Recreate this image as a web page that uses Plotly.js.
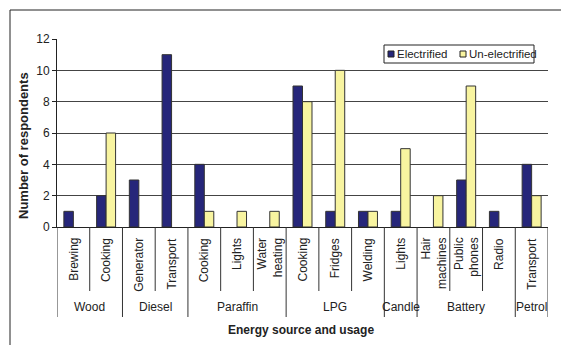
<!DOCTYPE html>
<html>
<head>
<meta charset="utf-8">
<script src="https://cdn.plot.ly/plotly-3.0.1.min.js"></script>
<style>html,body{margin:0;padding:0;background:#fff;}#chart{width:561px;height:345px;}</style>
</head>
<body>
<div id="chart"></div>
<script>
// ---- data ----
const groups = ['Wood', 'Diesel', 'Paraffin', 'LPG', 'Candle', 'Battery', 'Petrol'];
const groupSizes = [2, 2, 3, 3, 1, 3, 1];
const usages = ['Brewing', 'Cooking', 'Generator', 'Transport', 'Cooking', 'Lights', 'Water<br>heating',
  'Cooking', 'Fridges', 'Welding', 'Lights', 'Hair<br>machines', 'Public<br>phones', 'Radio', 'Transport'];
const electrified = [1, 2, 3, 11, 4, 0, 0, 9, 1, 1, 1, 0, 3, 1, 4];
const unelectrified = [0, 6, 0, 0, 1, 1, 1, 8, 10, 1, 5, 2, 9, 0, 2];
const seriesNames = ['Electrified', 'Un-electrified'];
const yTicks = [0, 2, 4, 6, 8, 10, 12];

// ---- layout geometry ----
const W = 561, H = 345;
const M = {l: 57, r: 13, t: 39, b: 118};
const PW = W - M.l - M.r, PH = H - M.t - M.b;
const px = X => (X - M.l) / PW;          // pixel x -> paper x
const py = Y => (H - M.b - Y) / PH;      // pixel y -> paper y
const FONT = '"Liberation Sans", Arial, sans-serif';
const navy = '#26267A', yellow = '#F8F4A0', edge = '#333';
const idx = usages.map((_, i) => i);
const hideZero = arr => arr.map(v => (v === 0 ? null : v));

const traces = [
  {type: 'bar', name: seriesNames[0], x: idx, y: hideZero(electrified),
   marker: {color: navy, line: {color: edge, width: 1}}, hoverinfo: 'y'},
  {type: 'bar', name: seriesNames[1], x: idx, y: hideZero(unelectrified),
   marker: {color: yellow, line: {color: edge, width: 1}}, hoverinfo: 'y'}
];

const shapes = [];
const annotations = [];

// outer frame
shapes.push({type: 'rect', xref: 'paper', yref: 'paper', x0: px(10), x1: px(620), y0: py(460), y1: py(10),
  line: {color: '#222', width: 1}, fillcolor: 'rgba(0,0,0,0)', layer: 'above'});

// dividers
const groupBounds = new Set();
let acc = 0; groupBounds.add(0);
groupSizes.forEach(s => { acc += s; groupBounds.add(acc); });
for (let k = 0; k <= usages.length; k++) {
  const isGroup = groupBounds.has(k);
  shapes.push({type: 'line', xref: 'x', yref: 'paper', x0: k - 0.5, x1: k - 0.5,
    y0: 0, y1: isGroup ? py(317) : py(291), line: {color: '#333', width: 1}});
}

// category labels
usages.forEach((u, i) => {
  annotations.push({text: u, x: i, xref: 'x', y: py(236), yref: 'paper', textangle: -90,
    xanchor: 'center', yanchor: 'top', align: 'right', showarrow: false,
    font: {family: FONT, size: 12, color: '#222'}});
});
// group labels
acc = 0;
groups.forEach((g, j) => {
  const c = acc + (groupSizes[j] - 1) / 2; acc += groupSizes[j];
  annotations.push({text: g, x: c, xref: 'x', y: py(307), yref: 'paper', xanchor: 'center', yanchor: 'middle',
    showarrow: false, font: {family: FONT, size: 12, color: '#222'}});
});
// axis titles
annotations.push({text: '<b>Energy source and usage</b>', x: px(301), y: py(330), xref: 'paper', yref: 'paper',
  xanchor: 'center', yanchor: 'middle', showarrow: false, font: {family: FONT, size: 12, color: '#222'}});
annotations.push({text: '<b>Number of respondents</b>', x: px(23), y: py(146), xref: 'paper', yref: 'paper',
  textangle: -90, xanchor: 'center', yanchor: 'middle', showarrow: false, font: {family: FONT, size: 13, color: '#222'}});

// legend (drawn manually)
shapes.push({type: 'rect', xref: 'paper', yref: 'paper', x0: px(384), x1: px(534), y0: py(63), y1: py(45),
  line: {color: '#222', width: 1}, fillcolor: '#fff'});
const legendMarkX = [388, 460], legendTextX = [396, 468];
[navy, yellow].forEach((c, i) => {
  shapes.push({type: 'rect', xref: 'paper', yref: 'paper', x0: px(legendMarkX[i]), x1: px(legendMarkX[i] + 6),
    y0: py(57), y1: py(51), line: {color: '#222', width: 1}, fillcolor: c});
  annotations.push({text: seriesNames[i], x: px(legendTextX[i]), y: py(54), xref: 'paper', yref: 'paper',
    xanchor: 'left', yanchor: 'middle', showarrow: false, font: {family: FONT, size: 11.5, color: '#222'},
    borderpad: 0});
});

const layout = {
  width: W, height: H,
  margin: M,
  paper_bgcolor: '#fff', plot_bgcolor: '#fff',
  font: {family: FONT, size: 12, color: '#222'},
  showlegend: false,
  barmode: 'group', bargap: 0.42, bargroupgap: 0,
  xaxis: {range: [-0.5, usages.length - 0.5], showticklabels: false, ticks: '', showgrid: false,
    zeroline: false, showline: true, linecolor: '#222', linewidth: 1, fixedrange: true},
  yaxis: {range: [0, 12], tickvals: yTicks, ticks: 'outside', ticklen: 4, tickcolor: '#222',
    showgrid: true, gridcolor: '#444', gridwidth: 1, zeroline: false, showline: true, linecolor: '#222',
    linewidth: 1, tickfont: {family: FONT, size: 12, color: '#222'}, fixedrange: true},
  shapes: shapes,
  annotations: annotations
};

Plotly.newPlot('chart', traces, layout, {displayModeBar: false, staticPlot: true});
</script>
</body>
</html>
